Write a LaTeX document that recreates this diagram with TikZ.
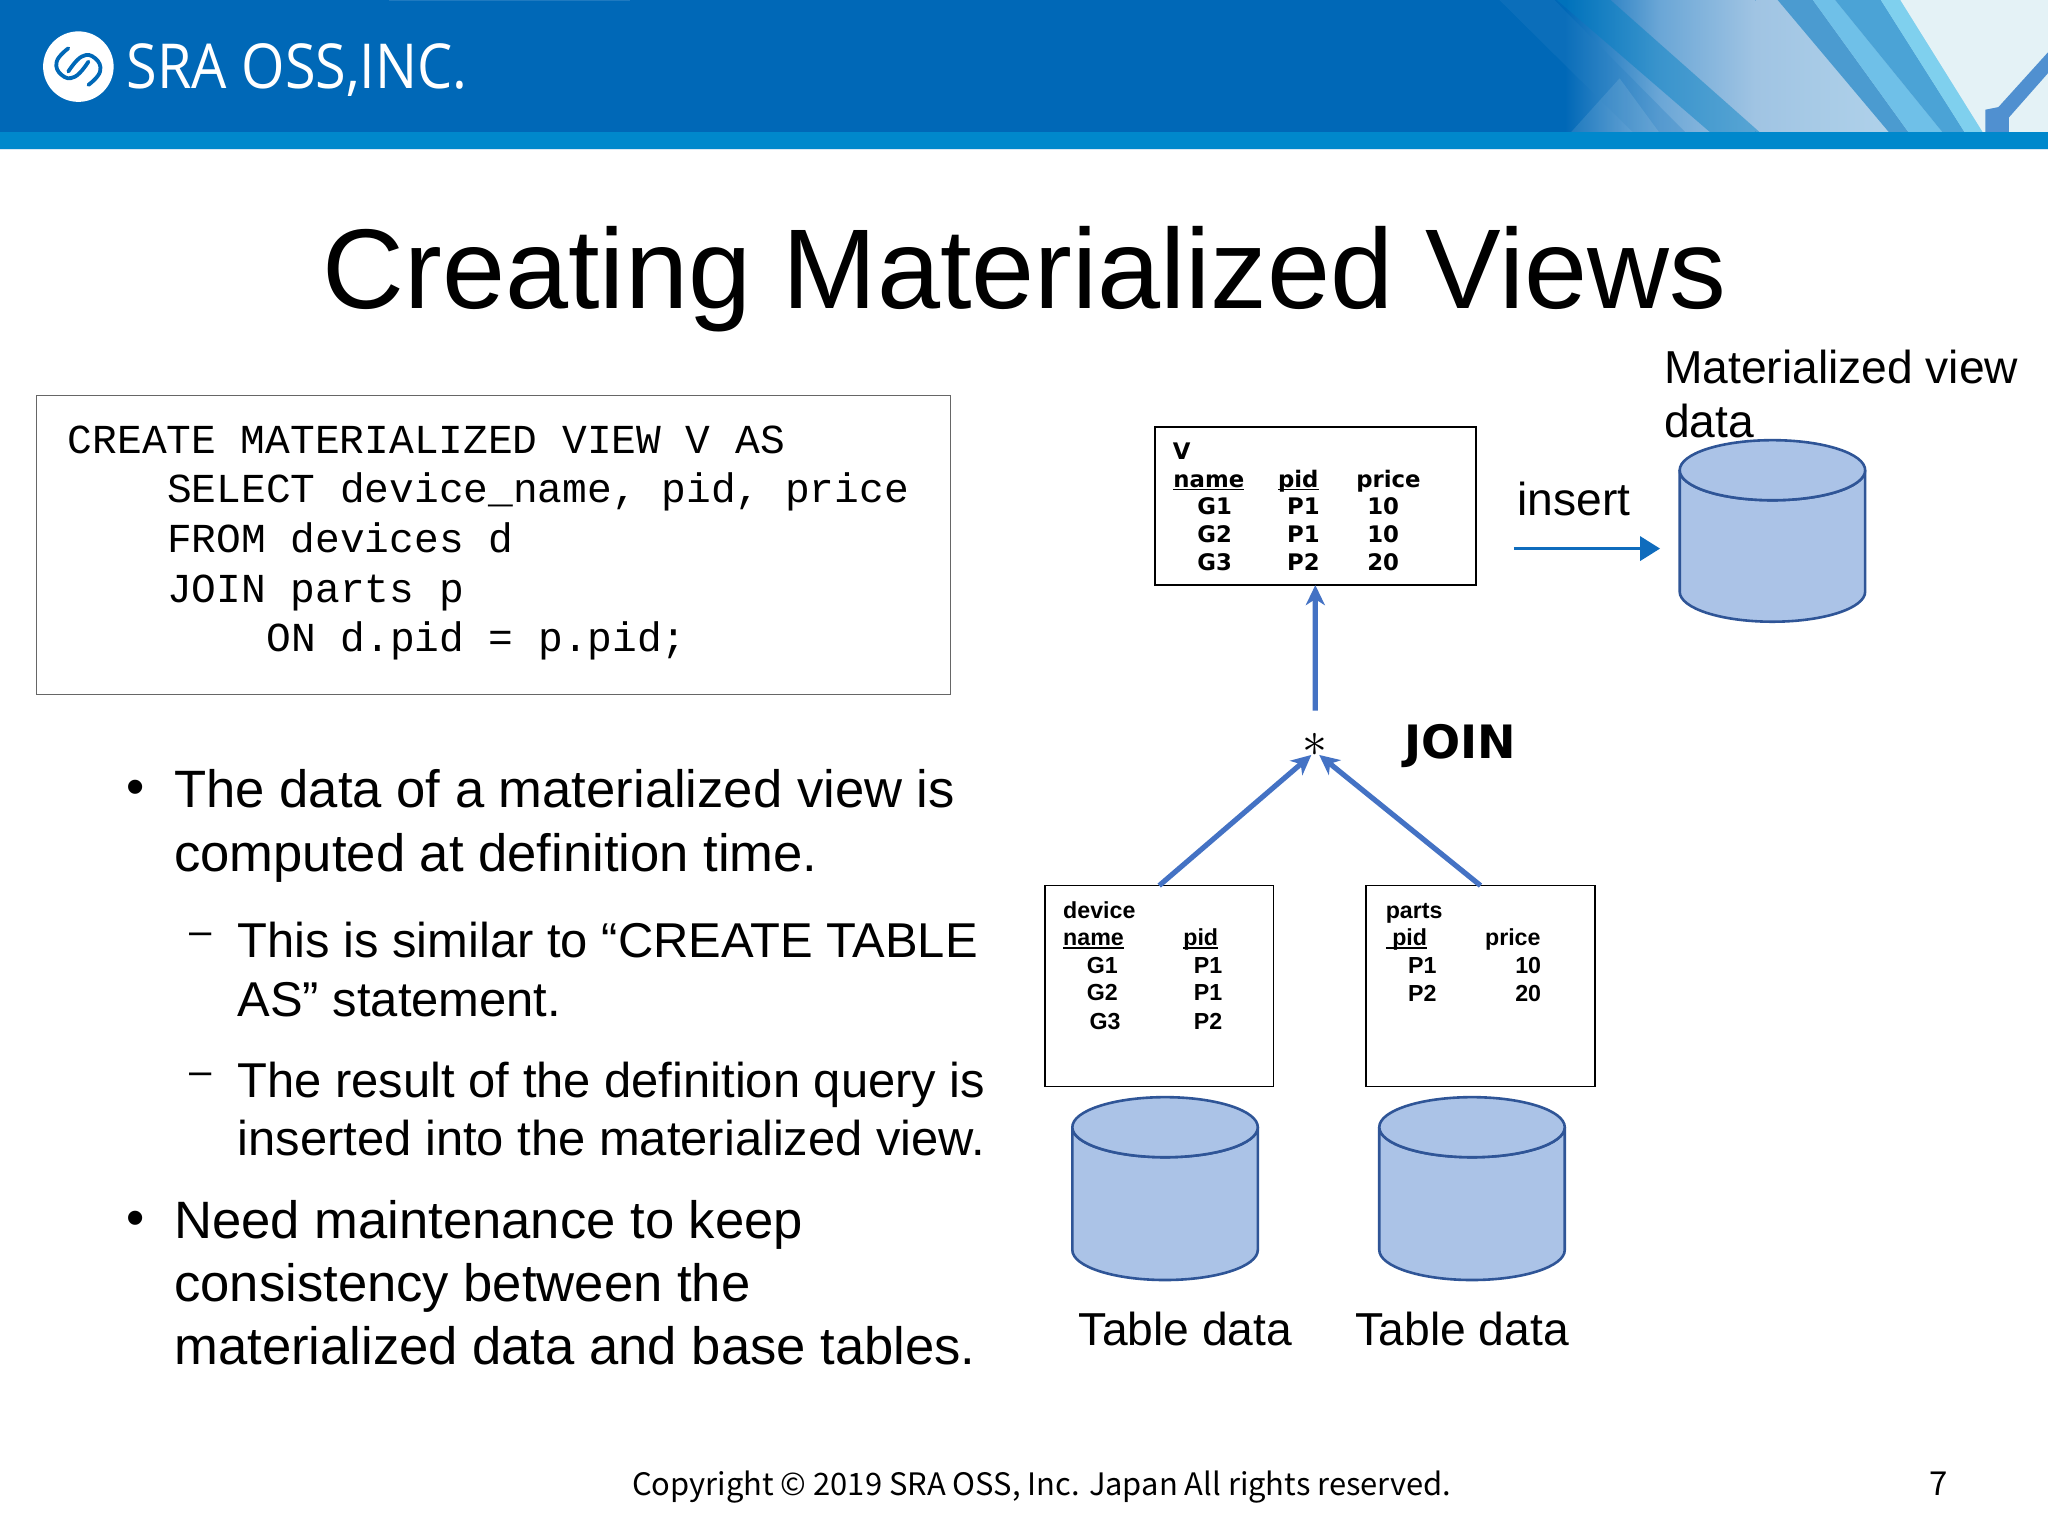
\documentclass[tikz,border=0pt]{standalone}
\usepackage{fontspec}
\setmainfont{Liberation Sans}
\setmonofont{Liberation Mono}
\newfontfamily\jpfont{Noto Sans CJK JP}
\newfontfamily\boldsans{DejaVu Sans}
\newfontfamily\logofont[FakeStretch=0.9]{Open Sans}
\usetikzlibrary{arrows.meta}
\definecolor{hdrblue}{HTML}{0068B7}
\definecolor{hdrstrip}{HTML}{0088CC}
\definecolor{cylfill}{HTML}{ABC3E7}
\definecolor{cyledge}{HTML}{2F5597}
\definecolor{joinblue}{HTML}{4472C4}
\definecolor{insblue}{HTML}{0F6CBD}
\definecolor{gradA}{HTML}{6AA6D6}
\definecolor{gradB}{HTML}{A0C4E3}
\definecolor{gradC}{HTML}{B0D2EA}
\definecolor{bandD}{HTML}{4B9BD0}
\definecolor{bandL}{HTML}{6FC0E8}
\definecolor{bandM}{HTML}{4BA3D6}
\definecolor{bandP}{HTML}{7FD0EE}
\definecolor{paleend}{HTML}{E4F2F6}
\definecolor{vstroke}{HTML}{5090D0}
\newcommand{\ulx}[1]{\setbox0=\hbox{#1}\rlap{\rule[-1.5pt]{\wd0}{0.7pt}}\box0}
\tikzset{
  x=0.65306pt,y=-0.65306pt,
  plain/.style={inner sep=0pt,outer sep=0pt,anchor=base west,align=left},
  bigtxt/.style={plain,font=\fontsize{26.3}{31.6}\selectfont},
  subtxt/.style={plain,font=\fontsize{24.45}{29.3}\selectfont},
  lbl/.style={plain,font=\fontsize{23.1}{26.8}\selectfont},
  bulletmark/.style={plain,font=\fontsize{26}{26}\selectfont},
  dashmark/.style={plain,font=\fontsize{20}{20}\selectfont},
  codeline/.style={plain,font=\ttfamily\fontsize{20.6}{24}\selectfont},
  tbl/.style={draw=black,line width=0.9pt,fill=white,inner sep=0pt,outer sep=0pt,anchor=north west},
  celltxt/.style={inner sep=0pt,outer sep=0pt,anchor=base,font=\fontsize{11.6}{13}\selectfont\bfseries},
  vcell/.style={inner sep=0pt,outer sep=0pt,anchor=base,font=\boldsans\fontsize{11.4}{13}\selectfont\bfseries},
  joinarrow/.style={draw=joinblue,line width=2.6pt,-{Stealth[length=10pt,width=9.5pt,inset=3pt]}},
  insarrow/.style={draw=insblue,line width=1.7pt,-{Triangle[length=10pt,width=12pt]}},
  cyl/.style={fill=cylfill,draw=cyledge,line width=1.3pt},
}
\newcommand{\cylinder}[4]{% x-left, x-right, y-top, y-bot
  \path[cyl] (#1,#3+23) -- (#1,#4-23) arc[x radius=(#2-#1)/2,y radius=23,start angle=180,end angle=0] -- (#2,#3+23) arc[x radius=(#2-#1)/2,y radius=23,start angle=0,end angle=180] -- cycle;
  \path[cyl] (#1,#3+23) arc[x radius=(#2-#1)/2,y radius=23,start angle=180,end angle=0] arc[x radius=(#2-#1)/2,y radius=23,start angle=0,end angle=-180] -- cycle;
}
\begin{document}
\begin{tikzpicture}
\useasboundingbox (0,0) rectangle (1568,1176);
\fill[white] (0,0) rectangle (1568,1176);
% header
\fill[hdrblue] (0,0) rectangle (1568,101);
\fill[hdrblue!88!white] (298,0) rectangle (482,1);
\fill[hdrstrip] (0,101) rectangle (1568,114);
\fill[white!85!hdrblue] (0,114) rectangle (1568,115);
\begin{scope}
\clip (1110,0) rectangle (1568,101);
\shade[left color=hdrblue,right color=gradA,shading angle=90] (1198,0) rectangle (1270,101);
\shade[left color=gradA,right color=gradB,shading angle=90] (1270,0) rectangle (1344,101);
\shade[left color=gradB,right color=gradC,shading angle=90] (1344,0) rectangle (1450,101);
\fill[gradC] (1450,0) rectangle (1568,101);
\fill[hdrblue!85!white,opacity=.3] (1148,0) -- (1190,0) -- (1290,101) -- (1250,101) -- cycle;
\fill[white,opacity=.1] (1203,101) -- (1270,101) -- (1240,60) -- cycle;
\fill[hdrblue!85!cyan,opacity=.45] (1192,0) -- (1233,0) -- (1347,101) -- (1309,101) -- cycle;
\fill[bandD] (1361,0) -- (1388,0) -- (1461,101) -- (1446,101) -- cycle;
\fill[bandL] (1388,0) -- (1405,0) -- (1487,101) -- (1461,101) -- cycle;
\fill[bandM] (1405,0) -- (1440,0) -- (1504,101) -- (1487,101) -- cycle;
\fill[bandP] (1440,0) -- (1455,0) -- (1518,101) -- (1504,101) -- cycle;
\fill[paleend] (1455,0) -- (1568,0) -- (1568,101) -- (1518,101) -- cycle;
\fill[vstroke] (1568,40) -- (1568,56) -- (1538,90) -- (1538,101) -- (1520,101) -- (1520,84) -- (1530,82) -- cycle;
\end{scope}
% logo
\fill[white] (60,51) circle[radius=27];
\begin{scope}[shift={(60,51)}]
\draw[hdrblue,line width=1.9pt,line cap=round] plot[smooth,tension=0.8] coordinates {(-7.7,-14) (-16.6,-3.8) (-12.8,6.4) (-2.6,7.7) (7.7,-3.8)};
\draw[hdrblue,line width=1.9pt,line cap=round] plot[smooth,tension=0.8] coordinates {(7.7,14) (16.6,3.8) (12.8,-6.4) (2.6,-7.7) (-7.7,3.8)};
\end{scope}
\node[plain,text=white,font=\logofont\fontsize{31}{31}\selectfont] (logotxt) at (97,68) {SRA OSS,INC.};
% title
\node[plain,font=\fontsize{56.7}{60}\selectfont] (title) at (247,236) {Creating Materialized Views};
% code box
\node[tbl,draw=black!60,line width=0.6pt,minimum width=457.1pt,minimum height=149.5pt] (codebox) at (28,303) {};
\node[codeline] (c1) at (52,347) {CREATE MATERIALIZED VIEW V AS};
\node[codeline] (c2) at (128,385) {SELECT device\_name, pid, price};
\node[codeline] (c3) at (128,423) {FROM devices d};
\node[codeline] (c4) at (128,461) {JOIN parts p};
\node[codeline] (c5) at (204,499) {ON d.pid = p.pid;};
% bullets
\node[bulletmark] (b1) at (96.5,616) {•};
\node[bigtxt] (t1) at (133.5,667) {The data of a materialized view is\\computed at definition time.};
\node[dashmark] (d1) at (145,723) {–};
\node[subtxt] (t2) at (182,778) {This is similar to “CREATE TABLE\\AS” statement.};
\node[dashmark] (d2) at (145,830) {–};
\node[subtxt] (t3) at (182,885) {The result of the definition query is\\inserted into the materialized view.};
\node[bulletmark] (b2) at (96.5,946) {•};
\node[bigtxt] (t4) at (133.5,1045) {Need maintenance to keep\\consistency between the\\materialized data and base tables.};
% footer
\node[plain,font=\jpfont\fontsize{15.45}{20}\selectfont] (foot) at (484,1145) {Copyright © 2019 SRA OSS, Inc. Japan All rights reserved.};
\node[plain,font=\jpfont\fontsize{16.5}{20}\selectfont] (pg) at (1477,1145) {7};
% labels
\node[lbl] (mv) at (1274,335) {Materialized view\\data};
\node[lbl] (ins) at (1162,395) {insert};
\node[lbl] (td1) at (826,1030) {Table data};
\node[lbl] (td2) at (1038,1030) {Table data};
% cylinders
\cylinder{1286}{1428}{337}{476}
\cylinder{821}{963}{840}{980}
\cylinder{1056}{1198}{840}{980}
% V table
\node[tbl,minimum width=160.7pt,minimum height=79pt] (vt) at (884,327) {};
\node[vcell,anchor=base west] (vn) at (898,352) {V};
\foreach \a/\b/\c/\yy/\i in {G1/P1/10/394/1,G2/P1/10/415/2,G3/P2/20/437/3}{
  \node[vcell] (va\i) at (930,\yy) {\a};
  \node[vcell] (vb\i) at (998,\yy) {\b};
  \node[vcell] (vc\i) at (1059,\yy) {\c};
}
\node[vcell] (vh1) at (925.5,373) {\ulx{name}};
\node[vcell] (vh2) at (994,373) {\ulx{pid}};
\node[vcell] (vh3) at (1063,373) {price};
% device
\node[tbl,minimum width=114.3pt,minimum height=100.5pt] (dt) at (800,678) {};
\node[celltxt,anchor=base west] (dn) at (814,703) {device};
\node[celltxt,anchor=base west] (dh1) at (814,724) {\ulx{name}};
\node[celltxt,anchor=base west] (dh2) at (906,724) {\ulx{pid}};
\foreach \a/\b/\yy/\xa/\i in {G1/P1/745/844/1,G2/P1/766/844/2,G3/P2/788/846/3}{
  \node[celltxt] (da\i) at (\xa,\yy) {\a};
  \node[celltxt] (db\i) at (925,\yy) {\b};
}
% parts
\node[tbl,minimum width=114.3pt,minimum height=100.5pt] (pt) at (1046,678) {};
\node[celltxt,anchor=base west] (pn) at (1061,703) {parts};
\node[celltxt,anchor=base west] (ph1) at (1061,724) {\ulx{\ pid}};
\node[celltxt,anchor=base west] (ph2) at (1137,724) {price};
\foreach \a/\b/\yy/\i in {P1/10/745/1,P2/20/767/2}{
  \node[celltxt] (pa\i) at (1089,\yy) {\a};
  \node[celltxt] (pb\i) at (1170,\yy) {\b};
}
% join
\node[inner sep=0pt,font=\fontsize{26}{26}\selectfont] (star) at (1007,570) {$\ast$};
\node[plain,font=\boldsans\fontsize{23}{27}\selectfont\bfseries] (join) at (1075,581) {JOIN};
\coordinate (insstart) at (1159,420);
\coordinate (insend) at (1271,420);
\draw[insarrow] (insstart) -- (insend);
\coordinate (startop) at (1007,544);
\coordinate (jl) at (1004,578);
\coordinate (jr) at (1010,578);
\draw[joinarrow] (startop) -- (vt.south);
\draw[joinarrow] (dt.north) -- (jl);
\draw[joinarrow] (pt.north) -- (jr);
\end{tikzpicture}
\end{document}
